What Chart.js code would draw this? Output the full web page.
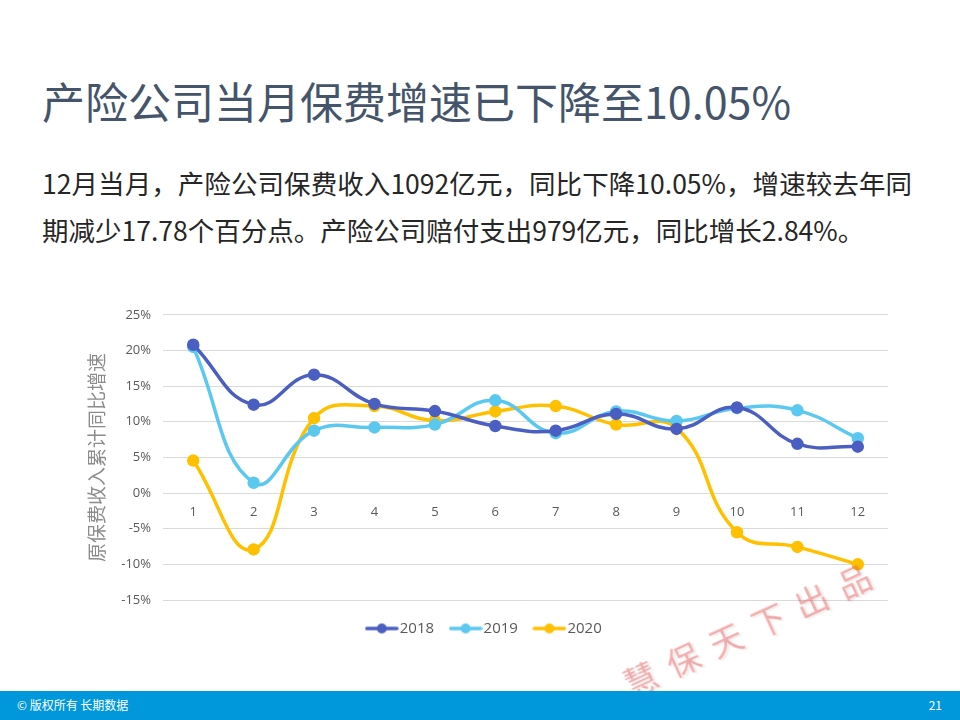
<!DOCTYPE html>
<html>
<head>
<meta charset="utf-8">
<script src="https://cdn.jsdelivr.net/npm/chart.js@4.4.1/dist/chart.umd.min.js"></script>
<style>
  html, body { margin:0; padding:0; background:#fff; }
  body { width:960px; height:720px; position:relative; overflow:hidden; font-family:"Noto Sans CJK SC","Noto Sans",sans-serif; }
  #title { position:absolute; left:42px; top:70px; font-size:43px; color:#44546A; white-space:nowrap; line-height:60px; }
  .body { position:absolute; left:42px; font-size:26.5px; color:#262626; white-space:nowrap; line-height:40px; }
  #l1 { top:163px; width:870px; text-align:justify; text-align-last:justify; }
  #l2 { top:210px; }
  #chartBox { position:absolute; left:80px; top:295px; width:820px; height:351px; }
  #footer { position:absolute; left:0; top:691px; width:960px; height:29px; background:#0098DB; color:#fff; font-size:12px; }
  #footer .l { position:absolute; left:17px; top:5px; }
  #footer .r { position:absolute; right:18px; top:5px; }
  #wm { position:absolute; left:625px; top:661px; font-size:33px; color:rgba(240,95,95,0.5); white-space:nowrap; transform:rotate(-24.7deg); transform-origin:0 50%; letter-spacing:14px; text-shadow:2px 2px 2px rgba(0,0,0,0.08); }
</style>
</head>
<body>
<div id="title">产险公司当月保费增速已下降至10.05%</div>
<div class="body" id="l1">12月当月，产险公司保费收入1092亿元，同比下降10.05%，增速较去年同</div>
<div class="body" id="l2">期减少17.78个百分点。产险公司赔付支出979亿元，同比增长2.84%。</div>
<div id="chartBox"><canvas id="c"></canvas></div>
<div id="wm">慧保天下出品</div>
<div id="footer"><span class="l">© 版权所有 长期数据</span><span class="r">21</span></div>
<script>
const categories = ['1','2','3','4','5','6','7','8','9','10','11','12'];
const series2018 = [20.8, 12.4, 16.6, 12.5, 11.5, 9.4, 8.75, 11.1, 9.0, 12.0, 6.9, 6.5];
const series2019 = [20.5, 1.45, 8.75, 9.2, 9.6, 13.0, 8.4, 11.45, 10.1, 11.9, 11.6, 7.7];
const series2020 = [4.55, -7.9, 10.5, 12.2, 10.15, 11.45, 12.2, 9.6, 9.1, -5.5, -7.55, -10.0];
const seriesNames = ['2018', '2019', '2020'];
const colors = ['#4A5FC1', '#5BC8F0', '#FFC000'];
const yTitle = '原保费收入累计同比增速';

function legendIcon(color) {
  const cv = document.createElement('canvas');
  cv.width = 34; cv.height = 12;
  const g = cv.getContext('2d');
  g.strokeStyle = color; g.lineWidth = 3.5; g.lineCap = 'round';
  g.beginPath(); g.moveTo(2, 6); g.lineTo(32, 6); g.stroke();
  g.fillStyle = color; g.beginPath(); g.arc(17, 6, 5, 0, Math.PI * 2); g.fill();
  return cv;
}

const datasets = [series2018, series2019, series2020].map((d, i) => ({
  label: seriesNames[i],
  data: d,
  borderColor: colors[i],
  backgroundColor: colors[i],
  borderWidth: 3.5,
  pointRadius: 4.5,
  pointHoverRadius: 4.5,
  tension: 0.45,
  fill: false,
  icon: legendIcon(colors[i])
}));

new Chart(document.getElementById('c'), {
  type: 'line',
  data: { labels: categories, datasets },
  options: {
    responsive: true,
    maintainAspectRatio: false,
    animation: false,
    layout: { padding: { left: 5, right: 12, top: 6, bottom: 0 } },
    plugins: {
      legend: {
        position: 'bottom',
        labels: {
          usePointStyle: true,
          pointStyleWidth: 21,
          color: '#595959',
          font: { size: 15, family: 'Open Sans, Noto Sans, sans-serif' },
          padding: 21,
          generateLabels: (chart) => chart.data.datasets.map((ds, i) => ({
            text: ds.label, pointStyle: ds.icon, fillStyle: ds.borderColor,
            strokeStyle: ds.borderColor, lineWidth: 0, datasetIndex: i, hidden: false,
            fontColor: '#595959'
          }))
        }
      },
      tooltip: { enabled: false }
    },
    scales: {
      x: {
        position: { y: 0 },
        offset: true,
        grid: { display: false, drawTicks: false },
        border: { display: false },
        ticks: { color: '#595959', font: { size: 13, family: 'Open Sans, Noto Sans, sans-serif' }, padding: 11 }
      },
      y: {
        min: -15, max: 25,
        afterFit: (s) => { s.width = 78; },
        grid: { color: '#D9D9D9', lineWidth: 1, drawTicks: false },
        border: { display: false },
        ticks: { stepSize: 5, color: '#595959', padding: 12, font: { size: 13, family: 'Open Sans, Noto Sans, sans-serif' }, callback: (v) => v + '%' },
        title: { display: true, text: yTitle, color: '#8C8C8C', font: { size: 19, family: 'Noto Sans CJK SC' }, padding: 0 }
      }
    }
  }
});
</script>
</body>
</html>
